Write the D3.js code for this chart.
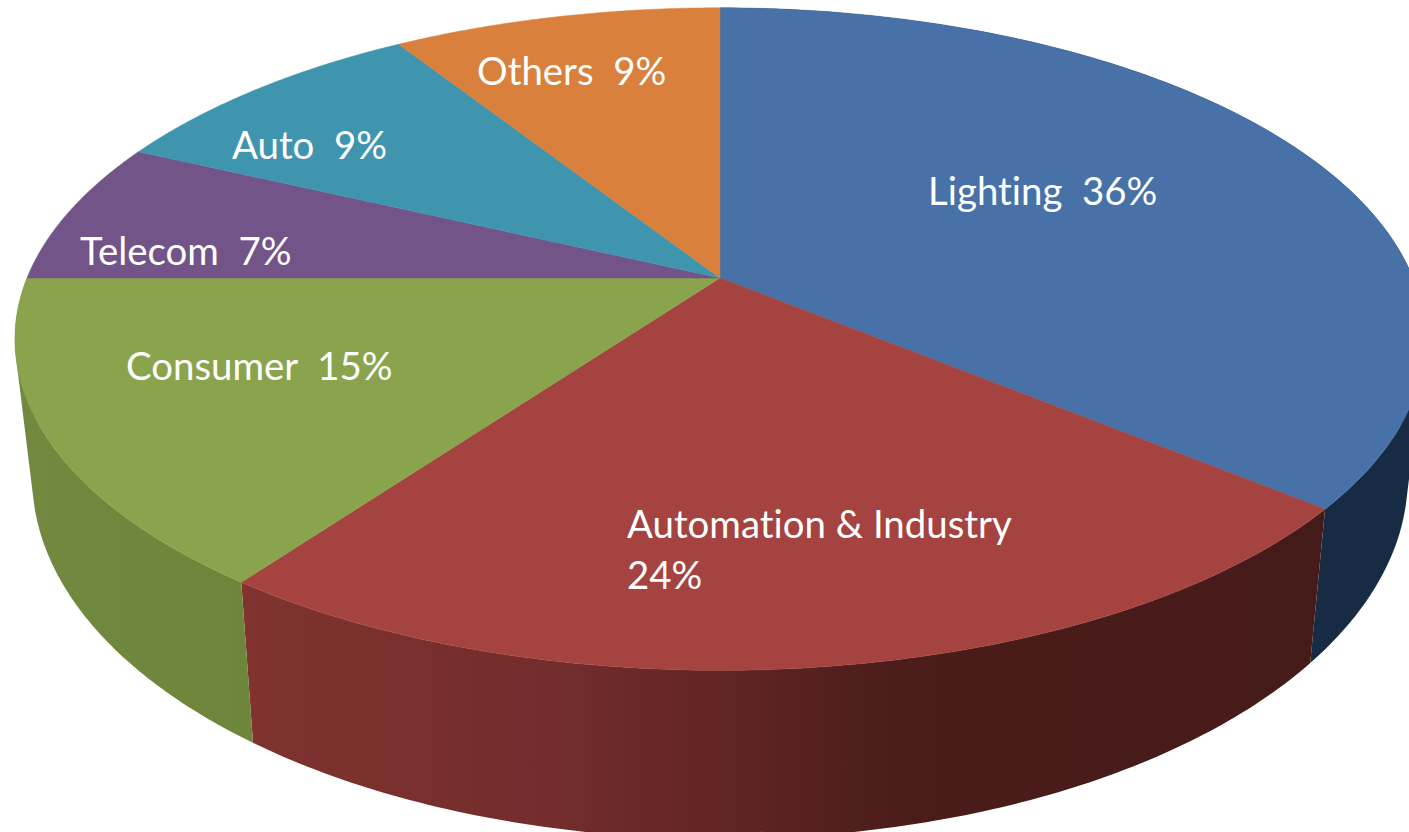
<!DOCTYPE html>
<html>
<head>
<meta charset="utf-8">
<script src="https://cdn.jsdelivr.net/npm/d3@7"></script>
<style>
  html, body { margin: 0; padding: 0; background: #fff; overflow: hidden; }
  text { font-family: Lato, sans-serif; fill: #fff; white-space: pre; font-variant-ligatures: none; }
</style>
</head>
<body>
<div id="chart"></div>
<script>
// values
const categories = ["Lighting", "Automation & Industry", "Consumer", "Telecom", "Auto", "Others"];
const shares = [36, 24, 15, 7, 9, 9];
const topColors = ["#4771a7", "#a54341", "#8aa44d", "#725488", "#4095ae", "#d8803c"];
const sideStops = [
  [["0%", "#172b45"], ["100%", "#172b45"]],
  [["0%", "#80332f"], ["30%", "#722c2c"], ["62%", "#4a1c1a"], ["100%", "#451b19"]],
  [["0%", "#718a3f"], ["100%", "#6e853c"]]
];

// label placement (text start x, baseline y of each line)
const labelLines = [
  [["Lighting  36%", 928, 205]],
  [["Automation & Industry", 627, 538], ["24%", 627, 589]],
  [["Consumer  15%", 126, 380]],
  [["Telecom  7%", 80, 265]],
  [["Auto  9%", 232, 159]],
  [["Others  9%", 477, 85]]
];

const width = 1409, height = 832;

// perspective of the disc: the unit circle is projected so its centre falls on the apex
const apex = { x: 720, y: 278 };
const tilt = 0.1843;
const topRim = { rx: 693, ry: 320, drop: 0 };
const bottomRim = { rx: 676, ry: 349, drop: 133 };

function project(angle, rim) {
  const u = Math.sin(angle), v = -Math.cos(angle);
  const w = 1 - tilt * v;
  return [apex.x + rim.rx * u / w, apex.y + rim.drop + rim.ry * v / w];
}

function arcPoints(a0, a1, rim) {
  return d3.range(0, 121).map(i => project(a0 + (a1 - a0) * i / 120, rim));
}

// wall of a slice, swept as quads so the outline follows the tangent between both rims
function wallPath(a0, a1) {
  const top = arcPoints(a0, a1, topRim), bottom = arcPoints(a0, a1, bottomRim);
  let path = "";
  for (let i = 0; i < top.length - 1; i++) {
    const quad = [top[i], top[i + 1], bottom[i + 1], bottom[i]];
    if (d3.polygonArea(quad) < 0) quad.reverse();
    path += line(quad) + "Z";
  }
  return path;
}

const line = d3.line();
const pie = d3.pie().sort(null).value(d => d);
const slices = pie(shares);

const svg = d3.select("#chart").append("svg")
  .attr("width", width)
  .attr("height", height)
  .style("display", "block");

const defs = svg.append("defs");

// side walls, only the slices that reach the front of the disc
const frontSlices = slices.filter(d => d.index < sideStops.length);

frontSlices.forEach(d => {
  const pts = arcPoints(d.startAngle, d.endAngle, topRim).concat(arcPoints(d.startAngle, d.endAngle, bottomRim));
  const xs = d3.extent(pts, p => Math.min(p[0], width));
  const grad = defs.append("linearGradient")
    .attr("id", "side-" + d.index)
    .attr("gradientUnits", "userSpaceOnUse")
    .attr("x1", xs[0]).attr("x2", xs[1])
    .attr("y1", 0).attr("y2", 0);
  sideStops[d.index].forEach(s => {
    grad.append("stop").attr("offset", s[0]).attr("stop-color", s[1]);
  });
});

svg.append("g").selectAll("path")
  .data(frontSlices)
  .join("path")
    .attr("fill", d => `url(#side-${d.index})`)
    .attr("d", d => wallPath(d.startAngle, d.endAngle));

// top of the disc
svg.append("g").selectAll("path")
  .data(slices)
  .join("path")
    .attr("fill", d => topColors[d.index])
    .attr("stroke", d => topColors[d.index])
    .attr("stroke-width", 0.5)
    .attr("d", d => line([[apex.x, apex.y]].concat(arcPoints(d.startAngle, d.endAngle, topRim))) + "Z");

// labels
svg.append("g").selectAll("g")
  .data(labelLines)
  .join("g")
  .selectAll("text")
  .data(d => d)
  .join("text")
    .attr("x", d => d[1])
    .attr("y", d => d[2])
    .attr("font-size", 38.4)
    .text(d => d[0]);
</script>
</body>
</html>
